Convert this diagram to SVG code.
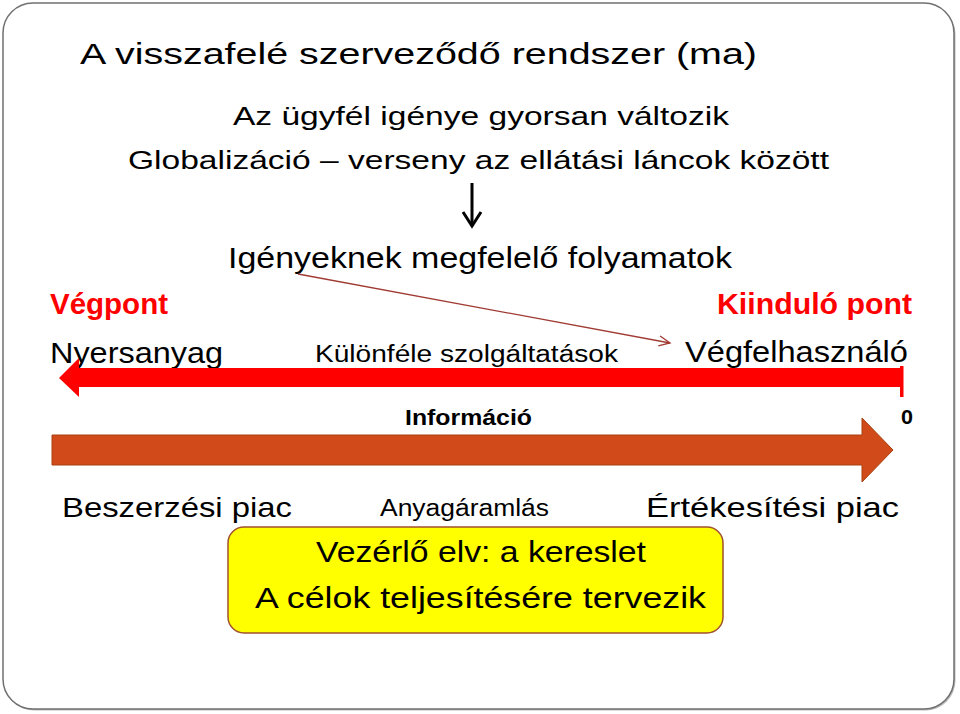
<svg xmlns="http://www.w3.org/2000/svg" width="960" height="714" viewBox="0 0 960 714">
<style>
text{font-family:"Comic Sans MS","Liberation Sans","DejaVu Sans",sans-serif;fill:#000}
.red{fill:#FF0000;font-weight:bold}
.b{font-weight:bold}
</style>
<defs>
<marker id="open" markerWidth="14" markerHeight="12" refX="12" refY="6" orient="auto" markerUnits="userSpaceOnUse">
<polyline points="1,1 12,6 1,11" fill="none" stroke="#A03A32" stroke-width="1.3"/>
</marker>
</defs>
<rect width="960" height="714" fill="#FFFFFF"/>
<g id="frame">
<rect x="4.5" y="4.5" width="951" height="706" rx="30" fill="#BBBBBB"/>
<rect x="3" y="3" width="951" height="706" rx="30" fill="#FFFFFF" stroke="#707070" stroke-width="1.5"/>
</g>
<g id="title">
<text x="80" y="64" font-size="30" textLength="677" lengthAdjust="spacingAndGlyphs">A visszafelé szerveződő rendszer (ma)</text>
</g>
<g id="header">
<text x="233" y="125" font-size="26" textLength="496" lengthAdjust="spacingAndGlyphs">Az ügyfél igénye gyorsan változik</text>
<text x="128" y="169" font-size="26" textLength="701" lengthAdjust="spacingAndGlyphs">Globalizáció – verseny az ellátási láncok között</text>
</g>
<g id="processes">
<text x="228" y="268" font-size="29" textLength="504" lengthAdjust="spacingAndGlyphs">Igényeknek megfelelő folyamatok</text>
</g>
<g id="endpoint">
<text class="red" x="50" y="314" font-size="29" textLength="118" lengthAdjust="spacingAndGlyphs">Végpont</text>
<text x="50" y="363" font-size="30" textLength="173" lengthAdjust="spacingAndGlyphs">Nyersanyag</text>
</g>
<g id="startpoint">
<text class="red" x="717" y="314" font-size="29" textLength="195" lengthAdjust="spacingAndGlyphs">Kiinduló pont</text>
<text x="685" y="362" font-size="30" textLength="223" lengthAdjust="spacingAndGlyphs">Végfelhasználó</text>
</g>
<g id="services">
<text x="315" y="362" font-size="23" textLength="303" lengthAdjust="spacingAndGlyphs">Különféle szolgáltatások</text>
</g>
<g id="info">
<text class="b" x="405" y="425" font-size="22" textLength="127" lengthAdjust="spacingAndGlyphs">Információ</text>
<text class="b" x="901" y="424" font-size="21" textLength="12" lengthAdjust="spacingAndGlyphs">0</text>
</g>
<g id="markets">
<text x="62" y="517" font-size="28" textLength="230" lengthAdjust="spacingAndGlyphs">Beszerzési piac</text>
<text x="380" y="516" font-size="23" textLength="169" lengthAdjust="spacingAndGlyphs">Anyagáramlás</text>
<text x="646" y="517" font-size="28" textLength="253" lengthAdjust="spacingAndGlyphs">Értékesítési piac</text>
</g>
<g id="principle">
<rect x="228" y="527" width="495" height="106" rx="16" fill="#FFFF00" stroke="#A0522D" stroke-width="1.5"/>
<text x="316" y="562" font-size="29" textLength="330" lengthAdjust="spacingAndGlyphs">Vezérlő elv: a kereslet</text>
<text x="255" y="608" font-size="29" textLength="451" lengthAdjust="spacingAndGlyphs">A célok teljesítésére tervezik</text>
</g>
<g id="connectors">
<line x1="472" y1="183" x2="472" y2="225" stroke="#000" stroke-width="3"/>
<polyline points="463,212 472,226 481,212" fill="none" stroke="#000" stroke-width="3" stroke-linejoin="miter"/>
<line x1="298" y1="274" x2="670" y2="343" stroke="#A03A32" stroke-width="1.3" marker-end="url(#open)"/>
<polygon points="59,378 79,358 79,368 902,368 902,387 79,387 79,397" fill="#FF0000"/>
<rect x="900" y="366" width="3.5" height="31" fill="#FF0000"/>
<polygon points="52,435 862,435 862,418 893,450 862,482 862,465 52,465" fill="#D14A19" stroke="#A8400F" stroke-width="1"/>
</g>
</svg>
